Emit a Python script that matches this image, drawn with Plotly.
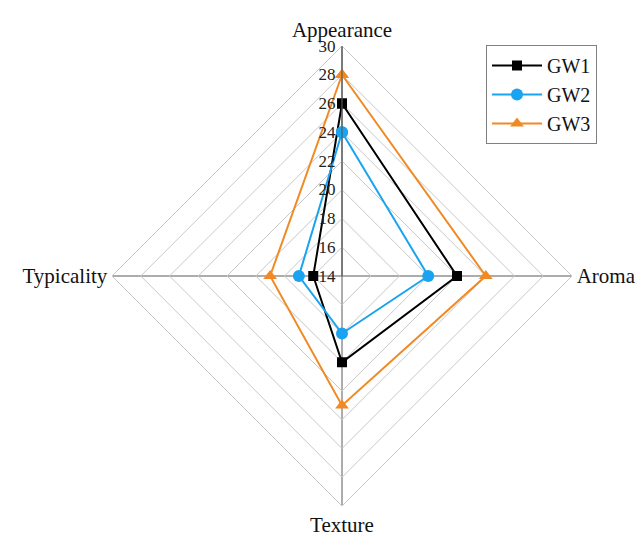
import plotly.graph_objects as go

categories = ["Appearance", "Aroma", "Texture", "Typicality"]
gw1 = [26, 22, 20, 16]
gw2 = [24, 20, 18, 17]
gw3 = [28, 24, 23, 19]
series_names = ["GW1", "GW2", "GW3"]
radial_ticks = [14, 16, 18, 20, 22, 24, 26, 28, 30]

colors = ["#000000", "#1aa3f0", "#f08a24"]
symbols = ["square", "circle", "triangle-up"]
sizes = [10, 12, 12]

fig = go.Figure()
for name, vals, c, s, sz in zip(series_names, [gw1, gw2, gw3], colors, symbols, sizes):
    fig.add_trace(go.Scatterpolar(
        r=vals + vals[:1], theta=categories + categories[:1], name=name,
        mode="lines+markers",
        line=dict(color=c, width=2),
        marker=dict(symbol=s, size=sz, color=c),
    ))

serif = "Liberation Serif, Times New Roman, serif"
fig.update_layout(
    width=640, height=536,
    margin=dict(l=0, r=0, t=0, b=0),
    paper_bgcolor="white", plot_bgcolor="white",
    font=dict(family=serif, color="#111111", size=18),
    polar=dict(
        domain=dict(x=[112/640, 572/640], y=[30/536, 490/536]),
        bgcolor="white",
        gridshape="linear",
        radialaxis=dict(
            range=[14, 30], tickvals=radial_ticks, ticktext=[str(t) for t in radial_ticks],
            angle=90, tickangle=90, side="counterclockwise",
            showline=True, linecolor="#5a5a5a", linewidth=1.2,
            gridcolor="#c8c8c8", gridwidth=1,
            ticks="", tickfont=dict(family=serif, size=17, color="#222222"),
        ),
        angularaxis=dict(
            direction="clockwise", rotation=90,
            showline=True, linecolor="#c8c8c8", linewidth=1,
            gridcolor="#5a5a5a", gridwidth=1.2,
            ticks="", tickfont=dict(family=serif, size=21, color="#111111"),
        ),
    ),
    legend=dict(
        x=486/640, y=1-45/536, xanchor="left", yanchor="top",
        bordercolor="#808080", borderwidth=1, bgcolor="white",
        font=dict(family=serif, size=20, color="#111111"),
        itemwidth=50, tracegroupgap=0,
    ),
    showlegend=True,
)

fig.write_html("out.html", config={"displayModeBar": False},
               post_script="document.body.style.margin='0';")
